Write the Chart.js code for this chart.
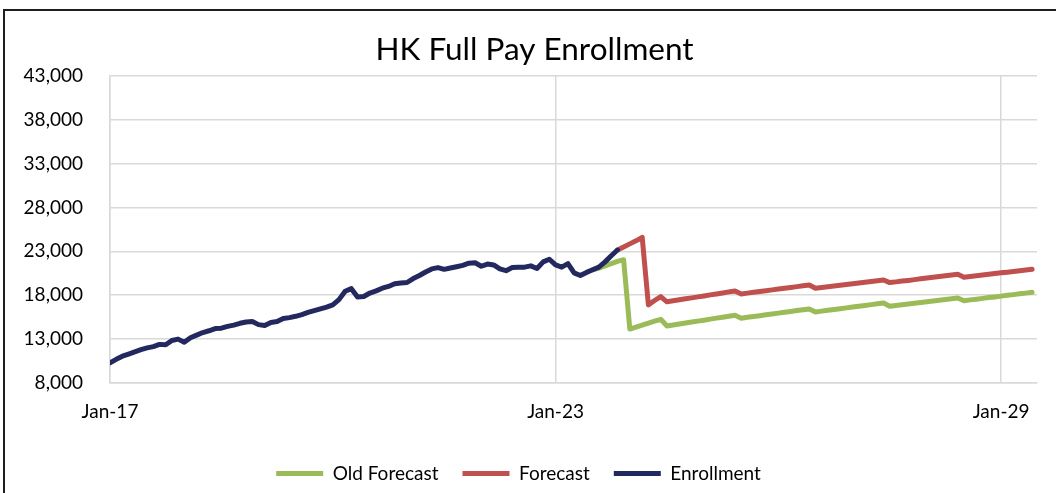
<!DOCTYPE html>
<html>
<head>
<meta charset="utf-8">
<script src="https://cdn.jsdelivr.net/npm/chart.js@4.4.1/dist/chart.umd.min.js"></script>
<style>
  html, body { margin: 0; padding: 0; background: #ffffff; overflow: hidden; }
  #frame { position: absolute; left: 3px; top: 9px; width: 1200px; height: 700px; border: 2px solid #1e1e1e; box-sizing: border-box; }
  #wrap { position: absolute; left: 0; top: 0; width: 1056px; height: 493px; }
</style>
</head>
<body>
<div id="frame"></div>
<div id="wrap"><canvas id="c" width="1056" height="493"></canvas></div>
<script>
// ---- Data (monthly, Jan-17 .. Jun-29) ----
const monthNames = ['Jan','Feb','Mar','Apr','May','Jun','Jul','Aug','Sep','Oct','Nov','Dec'];
const months = [];
for (let i = 0; i < 150; i++) months.push(monthNames[i % 12] + '-' + String(17 + Math.floor(i / 12)));

const xTickIndexes = [0, 72, 144]; // Jan-17, Jan-23, Jan-29
const yTicks = [8000, 13000, 18000, 23000, 28000, 33000, 38000, 43000];

// Enrollment: Jan-17 .. Nov-23
const enrollment = [
  10300, 10700, 11050, 11300, 11550, 11800, 12000, 12150, 12400, 12350, 12850, 13000,
  12650, 13150, 13450, 13750, 13950, 14200, 14250, 14450, 14600, 14800, 14950, 15000,
  14650, 14550, 14900, 15000, 15350, 15450, 15600, 15800, 16050, 16250, 16450, 16650,
  16900, 17500, 18450, 18750, 17800, 17850, 18250, 18500, 18800, 19000, 19300, 19400,
  19450, 19900, 20250, 20650, 21000, 21150, 20950, 21100, 21250, 21400, 21650, 21700,
  21300, 21550, 21450, 21000, 20800, 21150, 21200, 21200, 21350, 21050, 21800, 22100,
  21450, 21200, 21600, 20550, 20250, 20600, 20900, 21200, 21800, 22500, 23150
];
const enrollmentStart = 0;

// Forecast: Nov-23 .. Jun-29
const forecast = [
  23150, 23500, 23850, 24200, 24600, 16900, 17400, 17850,
  17250, 17370, 17480, 17590, 17700, 17810, 17920, 18040, 18150, 18260, 18380, 18490,
  18150, 18240, 18330, 18430, 18520, 18610, 18700, 18800, 18890, 18980, 19080, 19170,
  18800, 18890, 18970, 19060, 19140, 19230, 19310, 19400, 19480, 19570, 19650, 19740,
  19440, 19520, 19610, 19690, 19780, 19870, 19960, 20040, 20130, 20220, 20300, 20390,
  20050, 20130, 20210, 20300, 20380, 20470, 20550, 20630, 20710, 20800, 20880, 20960
];
const forecastStart = 82;

// Old Forecast: Jul-23 .. Jun-29
const oldForecast = [
  20900, 21100, 21350, 21600, 21850, 22050, 14150, 14380, 14600, 14830, 15050, 15260,
  14500, 14610, 14720, 14830, 14940, 15050, 15160, 15280, 15390, 15500, 15610, 15720,
  15380, 15480, 15570, 15670, 15770, 15860, 15960, 16060, 16150, 16250, 16340, 16440,
  16100, 16190, 16290, 16380, 16470, 16560, 16660, 16750, 16840, 16930, 17030, 17120,
  16740, 16830, 16910, 17000, 17090, 17170, 17260, 17350, 17430, 17520, 17600, 17690,
  17380, 17470, 17550, 17640, 17730, 17810, 17900, 17990, 18070, 18160, 18240, 18330
];
const oldForecastStart = 78;

const toPoints = (arr, start) => arr.map((v, i) => ({ x: start + i, y: v }));

const FONT = 'Lato, "Open Sans", sans-serif';
const GRID = '#d9d9d9';

const fmt = v => v.toLocaleString('en-US');

// shift the title block so the title sits where the reference puts it
const titleShift = {
  id: 'titleShift',
  afterLayout(chart) { if (chart.titleBlock) chart.titleBlock.left += 32; }
};

new Chart(document.getElementById('c'), {
  type: 'line',
  plugins: [titleShift],
  data: {
    datasets: [
      { label: 'Old Forecast', data: toPoints(oldForecast, oldForecastStart), borderColor: '#9BBB59', backgroundColor: '#9BBB59', order: 3 },
      { label: 'Forecast', data: toPoints(forecast, forecastStart), borderColor: '#C0504D', backgroundColor: '#C0504D', order: 2 },
      { label: 'Enrollment', data: toPoints(enrollment, enrollmentStart), borderColor: '#23295F', backgroundColor: '#23295F', order: 1 }
    ]
  },
  options: {
    responsive: false,
    animation: false,
    devicePixelRatio: 1,
    layout: { padding: { left: 0, right: 19, top: 0, bottom: 0 } },
    elements: {
      line: { borderWidth: 5, tension: 0, borderJoinStyle: 'round', borderCapStyle: 'round', fill: false },
      point: { radius: 0, hoverRadius: 0 }
    },
    plugins: {
      title: {
        display: true,
        text: 'HK Full Pay Enrollment',
        color: '#000000',
        font: { family: FONT, size: 31.5, weight: 'normal', lineHeight: 1.2 },
        padding: { top: 31, bottom: 7 }
      },
      legend: {
        position: 'bottom',
        labels: {
          color: '#000000',
          font: { family: FONT, size: 19 },
          boxWidth: 47,
          boxHeight: 5,
          padding: 24,
          useBorderRadius: true,
          borderRadius: 2.5,
          generateLabels: chart => chart.data.datasets.map((ds, i) => ({
            text: ds.label, fillStyle: ds.borderColor, strokeStyle: ds.borderColor,
            lineWidth: 0, datasetIndex: i, hidden: false, fontColor: '#000000'
          }))
        }
      },
      tooltip: { enabled: false }
    },
    scales: {
      x: {
        type: 'linear',
        min: 0,
        max: 149.8,
        afterBuildTicks: scale => { scale.ticks = xTickIndexes.map(v => ({ value: v })); },
        afterFit: scale => { scale.height = 57; },
        grid: { color: GRID, lineWidth: 1.5, drawTicks: false },
        border: { color: GRID, width: 1.5 },
        ticks: {
          color: '#000000',
          font: { family: FONT, size: 19 },
          padding: 17,
          maxRotation: 0,
          autoSkip: false,
          callback: v => months[v] ?? ''
        }
      },
      y: {
        min: 8000,
        max: 43000,
        afterBuildTicks: scale => { scale.ticks = yTicks.map(v => ({ value: v })); },
        afterFit: scale => { scale.width = 110; },
        grid: { color: GRID, lineWidth: 1.5, drawTicks: false },
        border: { color: GRID, width: 1.5 },
        ticks: {
          color: '#000000',
          font: { family: FONT, size: 19 },
          padding: 27,
          callback: v => fmt(v)
        }
      }
    }
  }
});
</script>
</body>
</html>
